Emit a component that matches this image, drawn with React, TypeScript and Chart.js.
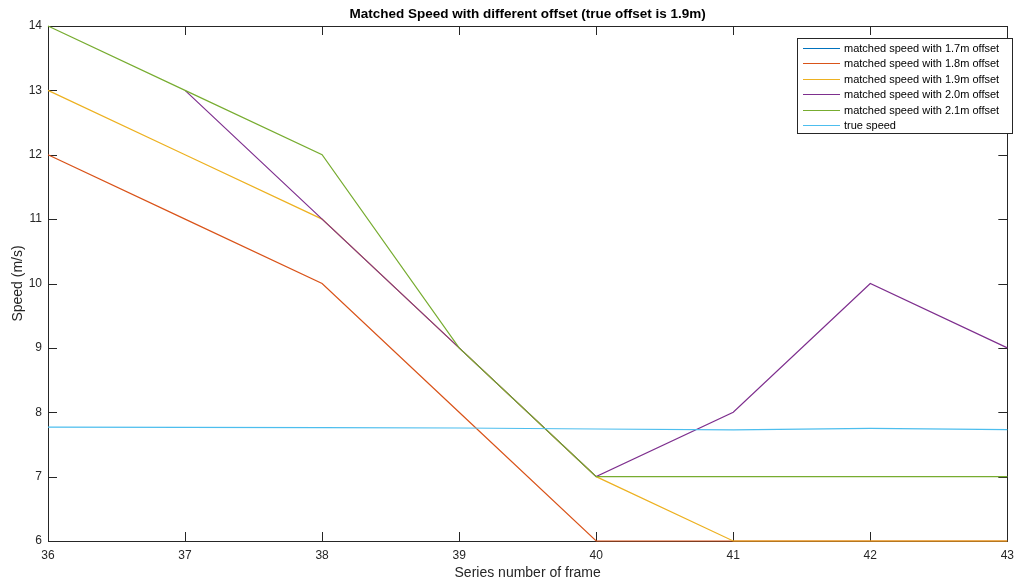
import React, { useEffect, useRef } from "react";
import { Chart, registerables } from "chart.js";

Chart.register(...registerables);

const frames = ["36", "37", "38", "39", "40", "41", "42", "43"];
// 1.7m offset series is not visible anywhere inside the plotted range
const speed17 = [null, null, null, null, null, null, null, null];
const speed18 = [12, 11, 10, 8, 6, 6, 6, 6];
const speed19 = [13, 12, 11, 9, 7, 6, 6, 6];
const speed20 = [null, 13, 11, 9, 7, 8, 10, 9];
const speed21 = [14, 13, 12, 9, 7, 7, 7, 7];
const trueSpeed = [7.77, 7.765, 7.76, 7.755, 7.74, 7.725, 7.75, 7.73];

const seriesLabels = [
  "matched speed with 1.7m offset",
  "matched speed with 1.8m offset",
  "matched speed with 1.9m offset",
  "matched speed with 2.0m offset",
  "matched speed with 2.1m offset",
  "true speed",
];
const seriesColors = ["#0072BD", "#D95319", "#EDB120", "#7E2F8E", "#77AC30", "#4DBEEE"];
const titleText = "Matched Speed with different offset (true offset is 1.9m)";
const xTitle = "Series number of frame";
const yTitle = "Speed (m/s)";

const FONT = "'Liberation Sans', Arial, sans-serif";

const decorPlugin = {
  id: "matlabDecor",
  beforeDatasetsDraw(chart: any) {
    const ctx = chart.ctx;
    const area = chart.chartArea;
    const xs = chart.scales.x;
    const ys = chart.scales.y;
    ctx.save();
    ctx.strokeStyle = "#262626";
    ctx.lineWidth = 1;
    ctx.strokeRect(Math.round(area.left) + 0.5, Math.round(area.top) + 0.5, Math.round(area.right - area.left), Math.round(area.bottom - area.top));
    const tl = 9;
    ctx.beginPath();
    xs.ticks.forEach((_t: any, i: number) => {
      const px = Math.round(xs.getPixelForTick(i)) + 0.5;
      ctx.moveTo(px, area.bottom);
      ctx.lineTo(px, area.bottom - tl);
      ctx.moveTo(px, area.top);
      ctx.lineTo(px, area.top + tl);
    });
    ys.ticks.forEach((t: any) => {
      const py = Math.round(ys.getPixelForValue(t.value)) + 0.5;
      ctx.moveTo(area.left, py);
      ctx.lineTo(area.left + tl, py);
      ctx.moveTo(area.right, py);
      ctx.lineTo(area.right - tl, py);
    });
    ctx.stroke();
    ctx.restore();
  },
  afterDraw(chart: any) {
    const ctx = chart.ctx;
    const area = chart.chartArea;
    ctx.save();
    // title
    ctx.fillStyle = "#000";
    ctx.font = `bold 13.5px ${FONT}`;
    ctx.textAlign = "center";
    ctx.textBaseline = "middle";
    ctx.fillText(titleText, (area.left + area.right) / 2, 14);
    // axis titles
    ctx.fillStyle = "#262626";
    ctx.font = `14px ${FONT}`;
    ctx.fillText(xTitle, (area.left + area.right) / 2, 573);
    ctx.save();
    ctx.translate(18, (area.top + area.bottom) / 2);
    ctx.rotate(-Math.PI / 2);
    ctx.fillText(yTitle, 0, 0);
    ctx.restore();

    // legend
    const lx = 797, ly = 38, lw = 215, lh = 95;
    ctx.fillStyle = "#fff";
    ctx.fillRect(lx, ly, lw, lh);
    ctx.strokeStyle = "#262626";
    ctx.lineWidth = 1;
    ctx.strokeRect(lx + 0.5, ly + 0.5, lw, lh);
    ctx.font = `11px ${FONT}`;
    ctx.textAlign = "left";
    chart.data.datasets.forEach((ds: any, i: number) => {
      const y = Math.round(ly + 10 + i * 15.4) + 0.5;
      ctx.strokeStyle = ds.borderColor;
      ctx.lineWidth = 1.2;
      ctx.beginPath();
      ctx.moveTo(803, y);
      ctx.lineTo(840, y);
      ctx.stroke();
      ctx.fillStyle = "#000";
      ctx.fillText(ds.label, 844, y);
    });
    ctx.restore();
  },
};

export default function App() {
  const ref = useRef<HTMLCanvasElement>(null);
  useEffect(() => {
    document.body.style.margin = "0";
    const data = [speed17, speed18, speed19, speed20, speed21, trueSpeed];
    const chart = new Chart(ref.current!, {
      type: "line",
      data: {
        labels: frames,
        datasets: data.map((d, i) => ({
          label: seriesLabels[i],
          data: d,
          borderColor: seriesColors[i],
          backgroundColor: seriesColors[i],
          borderWidth: 1.2,
          pointRadius: 0,
          tension: 0,
          fill: false,
          spanGaps: false,
          clip: 3,
          order: -i,
        })),
      },
      options: {
        animation: false,
        responsive: false,
        layout: { padding: { top: 26, left: 0, right: 7, bottom: 0 } },
        plugins: { legend: { display: false }, title: { display: false }, tooltip: { enabled: false } },
        scales: {
          x: {
            type: "category",
            offset: false,
            grid: { display: false, drawTicks: false },
            border: { display: false },
            ticks: { color: "#262626", font: { family: FONT, size: 12 }, padding: 7, maxRotation: 0, autoSkip: false },
            afterFit: (s: any) => { s.height = 42; },
          },
          y: {
            min: 6,
            max: 14,
            grid: { display: false, drawTicks: false },
            border: { display: false },
            ticks: { stepSize: 1, color: "#262626", font: { family: FONT, size: 12 }, padding: 6 },
            afterFit: (s: any) => { s.width = 48; },
          },
        },
      },
      plugins: [decorPlugin],
    });
    return () => chart.destroy();
  }, []);
  return (
    <div style={{ width: 1021, height: 583, background: "#fff" }}>
      <canvas ref={ref} width={1021} height={583} style={{ display: "block" }} />
    </div>
  );
}
